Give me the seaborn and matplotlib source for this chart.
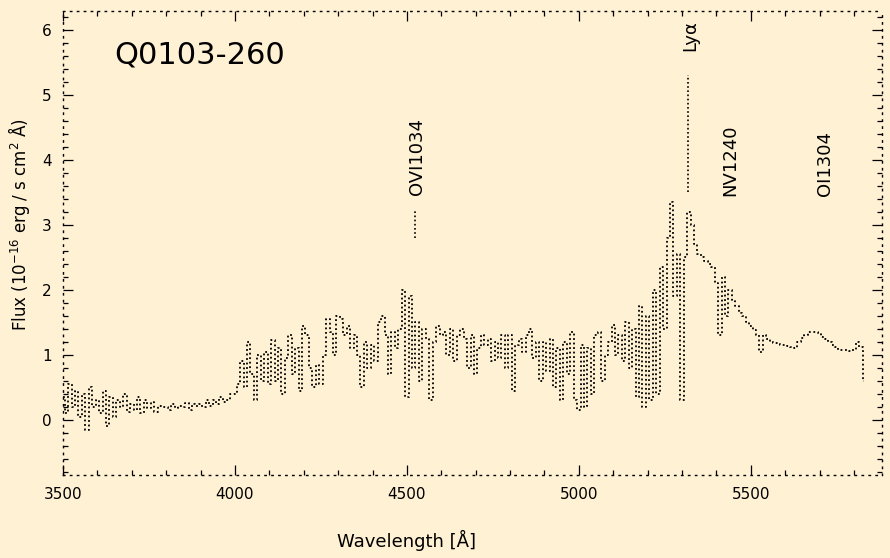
import numpy as np
import pandas as pd
import matplotlib
matplotlib.use("Agg")
import matplotlib.pyplot as plt
import seaborn as sns

wave = np.arange(3500, 5840, 10)
flux = [
    0.35, 0.10, 0.55, 0.20, 0.45, 0.05, 0.40, -0.15, 0.50, 0.20,   # 3500
    0.30, 0.10, 0.45, -0.10, 0.35, 0.05, 0.30, 0.20, 0.40, 0.12,   # 3600
    0.25, 0.15, 0.35, 0.10, 0.30, 0.18, 0.28, 0.12, 0.22, 0.20,    # 3700
    0.20, 0.15, 0.25, 0.18, 0.22, 0.20, 0.26, 0.15, 0.24, 0.22,    # 3800
    0.25, 0.20, 0.30, 0.22, 0.30, 0.25, 0.35, 0.28, 0.30, 0.40,    # 3900
    0.40, 0.55, 0.90, 0.50, 1.20, 0.70, 0.30, 1.00, 0.60, 1.05,    # 4000
    0.55, 1.23, 0.60, 1.10, 0.40, 0.95, 1.30, 0.70, 1.10, 0.45,    # 4100
    1.45, 1.30, 0.80, 0.50, 0.85, 0.55, 1.00, 1.55, 1.35, 1.00,    # 4200
    1.60, 1.55, 1.30, 1.45, 1.10, 1.30, 1.00, 0.50, 1.20, 0.80,    # 4300
    1.15, 0.90, 1.50, 1.60, 1.30, 0.70, 1.35, 1.10, 1.40, 2.00,    # 4400
    0.35, 1.90, 0.80, 1.50, 0.60, 1.40, 1.25, 0.30, 1.20, 1.45,    # 4500
    1.30, 1.35, 1.00, 1.40, 0.90, 1.30, 1.40, 1.25, 0.80, 1.30,    # 4600
    0.70, 1.10, 1.30, 1.15, 1.25, 0.90, 1.20, 0.95, 1.30, 0.80,    # 4700
    1.30, 0.45, 1.15, 1.25, 1.05, 1.30, 1.40, 0.95, 1.20, 0.60,    # 4800
    1.20, 0.75, 1.25, 0.50, 1.10, 0.30, 1.20, 0.70, 1.35, 0.30,    # 4900
    0.15, 1.15, 0.20, 1.10, 0.40, 1.30, 1.35, 0.60, 1.00, 1.20,    # 5000
    1.46, 1.00, 1.30, 0.90, 1.50, 0.80, 1.40, 0.35, 1.75, 0.20,    # 5100
    1.60, 0.30, 2.00, 0.40, 2.35, 1.40, 2.80, 3.35, 1.90, 2.55,    # 5200
    0.30, 2.50, 3.20, 3.00, 2.70, 2.55, 2.50, 2.45, 2.40, 2.35,    # 5300
    2.10, 1.30, 2.20, 1.60, 2.00, 1.85, 1.75, 1.65, 1.60, 1.50,    # 5400
    1.45, 1.38, 1.30, 1.05, 1.30, 1.25, 1.20, 1.18, 1.17, 1.15,    # 5500
    1.15, 1.14, 1.12, 1.10, 1.20, 1.26, 1.30, 1.35, 1.36, 1.35,    # 5600
    1.33, 1.28, 1.25, 1.20, 1.15, 1.12, 1.08, 1.08, 1.08, 1.06,    # 5700
    1.07, 1.20, 1.12, 0.60,                                        # 5800
]

line_names = ["OVI1034", "Lyα", "NV1240", "OI1304"]
line_wave = [4530, 5325, 5440, 5715]
line_text_y = [4.05, 5.92, 4.0, 3.94]

df = pd.DataFrame({"wave": wave, "flux": flux})

bg = "#FFF1D3"
sns.set_style("ticks")
plt.rcParams["font.family"] = ["DejaVu Sans"]
plt.rcParams.update({"text.color": "black", "axes.labelcolor": "black",
                     "xtick.color": "black", "ytick.color": "black"})

fig = plt.figure(figsize=(8.9, 5.58), dpi=100, facecolor=bg)
ax = fig.add_axes([0.0708, 0.149, 0.920, 0.831], facecolor=bg)

sns.lineplot(data=df, x="wave", y="flux", ax=ax, estimator=None,
             color="black", linewidth=1.3, linestyle=(0, (1, 1.5)),
             drawstyle="steps-mid")

# line identification labels
for name, w, ty in zip(line_names, line_wave, line_text_y):
    ax.text(w, ty, name, rotation=90, ha="center", va="center", fontsize=13)
ax.plot([4523, 4523], [2.8, 3.23], color="black", lw=1.2, ls=(0, (1, 1.5)))
ax.plot([5317, 5317], [3.5, 5.3], color="black", lw=1.2, ls=(0, (1, 1.5)))

ax.text(0.063, 0.905, "Q0103-260", transform=ax.transAxes, fontsize=22,
        ha="left", va="center")

ax.set_xlim(3500, 5881)
ax.set_ylim(-0.846, 6.29)
ax.set_xticks([3500, 4000, 4500, 5000, 5500])
ax.set_xticks(np.arange(3500, 5900, 100), minor=True)
ax.set_yticks([0, 1, 2, 3, 4, 5, 6])
ax.set_yticks(np.arange(-0.8, 6.3, 0.2), minor=True)
ax.tick_params(which="both", direction="in", top=True, right=True,
               labelsize=11, color="black", width=0.9)
ax.tick_params(which="major", length=7)
ax.tick_params(which="minor", length=3.5)
ax.tick_params(axis="x", pad=9)
ax.tick_params(axis="y", pad=8)

for sp in ax.spines.values():
    sp.set_linestyle((0, (1, 4)))
    sp.set_linewidth(1.0)
    sp.set_color("black")

ax.set_xlabel("Wavelength [Å]", fontsize=13)
ax.set_ylabel("Flux (10$^{-16}$ erg / s cm$^2$ Å)", fontsize=12)
ax.xaxis.set_label_coords(0.42, -0.118)
ax.yaxis.set_label_coords(-0.038, 0.54)

fig.savefig("out.png", dpi=100, facecolor=bg)
